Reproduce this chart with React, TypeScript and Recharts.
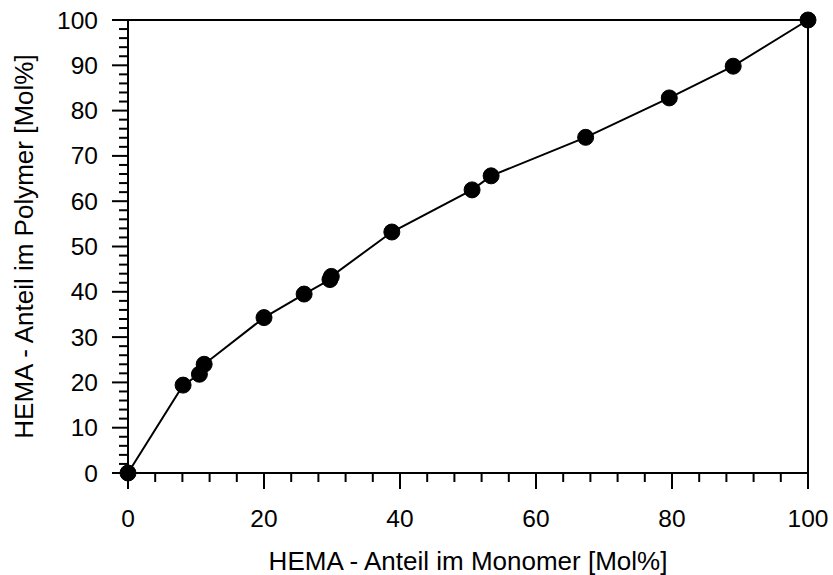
import React from 'react';
import { ComposedChart, Line, XAxis, YAxis, ReferenceLine } from 'recharts';

const monomer = [0, 8.1, 10.5, 11.2, 20.0, 25.9, 29.7, 29.9, 38.8, 50.6, 53.4, 67.3, 79.6, 89.0, 100];
const polymer = [0, 19.4, 21.8, 24.0, 34.3, 39.5, 42.7, 43.4, 53.2, 62.5, 65.6, 74.1, 82.8, 89.8, 100];

const xTicks: number[] = [];
for (let v = 0; v <= 100; v += 4) xTicks.push(v);
const yTicks: number[] = [];
for (let v = 0; v <= 100; v += 2) yTicks.push(v);

const xMajor = [0, 20, 40, 60, 80, 100];
const yMajor = [0, 10, 20, 30, 40, 50, 60, 70, 80, 90, 100];

const xTitle = 'HEMA - Anteil im Monomer [Mol%]';
const yTitle = 'HEMA - Anteil im Polymer [Mol%]';

const data = monomer.map((m, i) => ({ m, p: polymer[i] }));

const FONT = 'Liberation Sans, Arial, Helvetica, sans-serif';
const FS = 24.5;
const TFS = 26;

const XTick = (props: any) => {
  const { x, y, payload } = props;
  const v = payload.value;
  const major = xMajor.includes(v);
  return (
    <g>
      <line x1={x} x2={x} y1={y} y2={y + (major ? 16 : 9)} stroke="#000" strokeWidth={2} />
      {major && (
        <text x={x} y={y + 54} textAnchor="middle" fontSize={FS} fontFamily={FONT} fill="#000">
          {v}
        </text>
      )}
    </g>
  );
};

const YTick = (props: any) => {
  const { x, y, payload } = props;
  const v = payload.value;
  const major = yMajor.includes(v);
  return (
    <g>
      <line x1={x} x2={x - (major ? 16 : 9)} y1={y} y2={y} stroke="#000" strokeWidth={2} />
      {major && (
        <text x={x - 30} y={y + 8.5} textAnchor="end" fontSize={FS} fontFamily={FONT} fill="#000">
          {v}
        </text>
      )}
    </g>
  );
};

const XTitle = (props: any) => {
  const vb = props.viewBox || {};
  const cx = (vb.x || 0) + (vb.width || 0) / 2;
  const top = vb.y || 0;
  return (
    <text x={cx} y={top + 97} textAnchor="middle" fontSize={TFS} fontFamily={FONT} fill="#000">
      {xTitle}
    </text>
  );
};

const YTitle = (props: any) => {
  const vb = props.viewBox || {};
  const cy = (vb.y || 0) + (vb.height || 0) / 2;
  const bx = 33;
  return (
    <text
      x={bx}
      y={cy}
      transform={`rotate(-90, ${bx}, ${cy})`}
      textAnchor="middle"
      fontSize={TFS}
      fontFamily={FONT}
      fill="#000"
    >
      {yTitle}
    </text>
  );
};

export default function App() {
  return (
    <div style={{ position: 'absolute', left: 0, top: 0, background: '#fff' }}>
      <ComposedChart
        width={833}
        height={575}
        data={data}
        margin={{ top: 20, right: 25, bottom: 0, left: 0 }}
      >
        <XAxis
          dataKey="m"
          type="number"
          domain={[0, 100]}
          ticks={xTicks}
          interval={0}
          tickSize={0}
          tickMargin={0}
          tick={<XTick />}
          height={102}
          axisLine={{ stroke: '#000', strokeWidth: 2 }}
          tickLine={false}
          label={{ content: (p: any) => <XTitle {...p} /> }}
        />
        <YAxis
          type="number"
          domain={[0, 100]}
          ticks={yTicks}
          interval={0}
          tickSize={0}
          tickMargin={0}
          tick={<YTick />}
          width={128}
          axisLine={{ stroke: '#000', strokeWidth: 2 }}
          tickLine={false}
          label={{ content: (p: any) => <YTitle {...p} /> }}
        />
        <ReferenceLine y={100} stroke="#000" strokeWidth={2} />
        <ReferenceLine x={100} stroke="#000" strokeWidth={2} />
        <Line
          dataKey="p"
          stroke="#000"
          strokeWidth={2}
          dot={{ r: 8, fill: '#000', stroke: '#000', strokeWidth: 1 }}
          isAnimationActive={false}
        />
      </ComposedChart>
    </div>
  );
}
